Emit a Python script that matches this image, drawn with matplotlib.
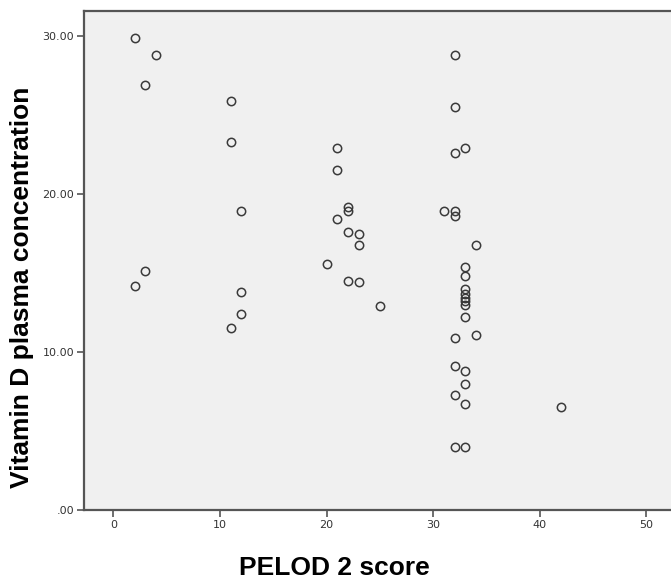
import matplotlib.pyplot as plt

# PELOD 2 score vs vitamin D plasma concentration
pelod = [2, 4, 3, 11, 11, 12, 3, 2, 12, 12, 11,
         21, 21, 21, 20, 22, 22, 22, 23, 23, 22, 23, 25,
         31, 32, 32, 32, 32, 32, 32, 32, 32, 32,
         33, 33, 33, 33, 33, 33, 33, 33, 33, 33, 33, 33, 33,
         34, 34, 42]
vitd = [29.9, 28.8, 26.9, 25.9, 23.3, 18.9, 15.1, 14.2, 13.8, 12.4, 11.5,
        22.9, 21.5, 18.4, 15.6, 19.2, 18.9, 17.6, 17.5, 16.8, 14.5, 14.4, 12.9,
        18.9, 28.8, 25.5, 22.6, 18.9, 18.6, 10.9, 9.1, 7.3, 4.0,
        22.9, 15.4, 14.8, 14.0, 13.7, 13.4, 13.2, 13.0, 12.2, 8.8, 8.0, 6.7, 4.0,
        16.8, 11.1, 6.5]

xticks = [0, 10, 20, 30, 40, 50]
yticks = [0, 10, 20, 30]
ytick_labels = [".00", "10.00", "20.00", "30.00"]

fig = plt.figure(figsize=(6.71, 5.83), dpi=100)
ax = fig.add_axes([0.1252, 0.1252, 0.8748, 0.8564])
ax.set_facecolor("#f0f0f0")

ax.plot(pelod, vitd, linestyle="none", marker="o", markersize=6,
        markerfacecolor="none", markeredgecolor="#3a3a3a", markeredgewidth=1.1)

ax.set_xlim(-2.75, 52.3)
ax.set_ylim(0, 31.6)
ax.set_xticks(xticks)
ax.set_yticks(yticks)
ax.set_yticklabels(ytick_labels)

tick_font = ["Liberation Sans Narrow", "DejaVu Sans"]
for lab in ax.get_xticklabels() + ax.get_yticklabels():
    lab.set_family(tick_font)
    lab.set_fontsize(8)
    lab.set_color("#333333")

ax.tick_params(direction="out", length=5, width=1.2, color="#555555", pad=2)
for side in ["left", "top", "bottom"]:
    ax.spines[side].set_color("#555555")
    ax.spines[side].set_linewidth(1.6)
ax.spines["right"].set_visible(False)

fig.text(334 / 671, 1 - 568 / 583, "PELOD 2 score", ha="center", va="center",
         fontsize=19, fontweight="bold", family=["Liberation Sans", "DejaVu Sans"])
fig.text(22 / 671, 1 - 287 / 583, "Vitamin D plasma concentration", ha="center",
         va="center", rotation=90, fontsize=19, fontweight="bold",
         family=["Liberation Sans", "DejaVu Sans"])

plt.savefig("out.png", dpi=100)
